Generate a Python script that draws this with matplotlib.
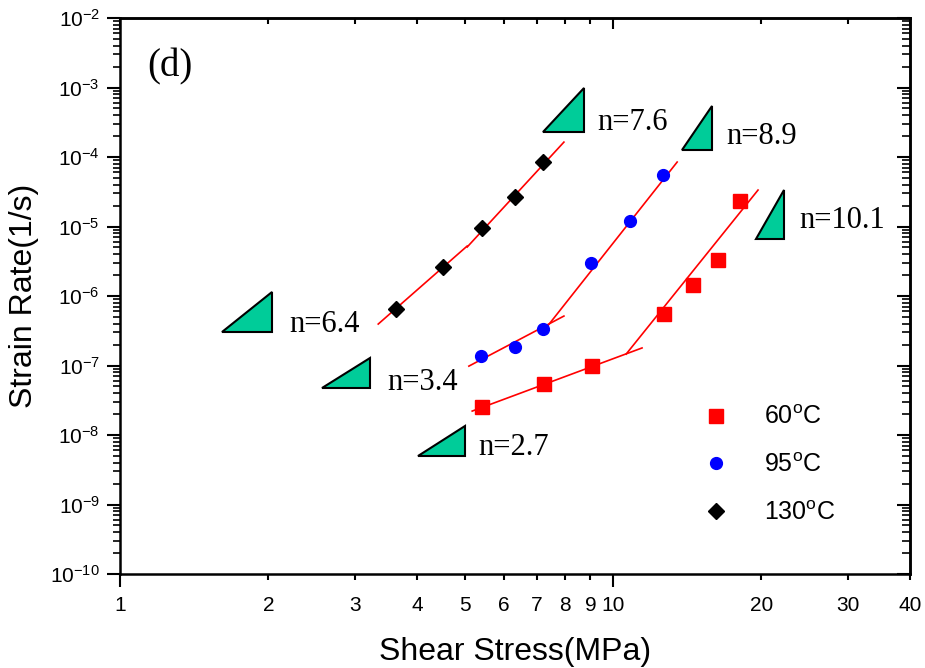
import matplotlib
matplotlib.use('Agg')
import matplotlib.pyplot as plt
from matplotlib.patches import Polygon
from matplotlib.ticker import FixedLocator, NullFormatter, LogLocator

plt.rcParams['font.family'] = ['Liberation Sans', 'DejaVu Sans']
plt.rcParams['mathtext.default'] = 'regular'

# measured points
stress_60 = [5.42, 7.25, 9.06, 12.7, 14.5, 16.3, 18.1]
rate_60 = [2.5e-8, 5.4e-8, 1.0e-7, 5.5e-7, 1.45e-6, 3.3e-6, 2.35e-5]
stress_95 = [5.40, 6.33, 7.21, 9.03, 10.83, 12.63]
rate_95 = [1.35e-7, 1.85e-7, 3.4e-7, 3.0e-6, 1.2e-5, 5.5e-5]
stress_130 = [3.63, 4.52, 5.42, 6.33, 7.21]
rate_130 = [6.5e-7, 2.6e-6, 9.5e-6, 2.7e-5, 8.4e-5]

# fitted power-law segments (end points)
fit_x = [[3.34, 5.06], [5.06, 7.95], [5.10, 7.95], [7.18, 13.49],
         [5.18, 11.45], [10.63, 19.68]]
fit_y = [[3.95e-7, 5.24e-6], [5.07e-6, 1.64e-4], [9.8e-8, 5.15e-7],
         [2.94e-7, 8.47e-5], [2.21e-8, 1.79e-7], [1.46e-7, 3.35e-5]]

# slope triangles: label, (x0, x1), (y0, y1), label position
slope_labels = ['n=6.4', 'n=7.6', 'n=8.9', 'n=10.1', 'n=3.4', 'n=2.7']
tri_x = [(1.61, 2.03), (7.21, 8.73), (13.8, 15.9), (19.5, 22.2), (2.57, 3.22), (4.02, 5.01)]
tri_y = [(3.03e-7, 1.14e-6), (2.29e-4, 9.84e-4), (1.26e-4, 5.42e-4),
         (6.61e-6, 3.35e-5), (4.74e-8, 1.28e-7), (4.99e-9, 1.35e-8)]
label_xy = [(2.21, 3.95e-7), (9.28, 3.19e-4), (17.0, 2.0e-4),
            (23.9, 1.24e-5), (3.48, 5.79e-8), (5.32, 6.72e-9)]

xmajor = [1, 10]
xminor = [2, 3, 4, 5, 6, 7, 8, 9, 20, 30, 40]

fig = plt.figure(figsize=(9.25, 6.68), dpi=100)
ax = fig.add_axes([0.1297, 0.1407, 0.854, 0.8323])

for xs, ys in zip(fit_x, fit_y):
    ax.plot(xs, ys, color='red', lw=1.2, zorder=2)

ax.plot(stress_60, rate_60, 's', color='red', ms=9.5, ls='none', label='60$^{o}$C', zorder=3)
ax.plot(stress_95, rate_95, 'o', color='blue', ms=8.5, ls='none', label='95$^{o}$C', zorder=3)
ax.plot(stress_130, rate_130, 'D', color='black', ms=8, ls='none', label='130$^{o}$C', zorder=3)

for (x0, x1), (y0, y1) in zip(tri_x, tri_y):
    ax.add_patch(Polygon([(x0, y0), (x1, y0), (x1, y1)], closed=True,
                         facecolor='#00CC99', edgecolor='black', lw=1.5, zorder=4))
for lab, (lx, ly) in zip(slope_labels, label_xy):
    ax.text(lx, ly, lab, family='Liberation Serif', fontsize=22, va='center', ha='left')

ax.text(0.034, 0.912, '(d)', transform=ax.transAxes, family='Liberation Serif',
        fontsize=28, va='center', ha='left')

ax.set_xscale('log')
ax.set_yscale('log')
ax.set_xlim(1, 40)
ax.set_ylim(1e-10, 1e-2)

ax.xaxis.set_major_locator(FixedLocator(xmajor))
ax.xaxis.set_minor_locator(FixedLocator(xminor))
ax.set_xticks(xmajor, labels=[str(v) for v in xmajor])
ax.set_xticks(xminor, labels=[str(v) for v in xminor], minor=True)
ax.yaxis.set_major_locator(LogLocator(base=10, numticks=20))
ax.yaxis.set_minor_locator(LogLocator(base=10, subs=range(2, 10), numticks=20))
ax.yaxis.set_minor_formatter(NullFormatter())

ax.tick_params(axis='x', which='major', direction='out', length=9.5, width=1.5, pad=6, labelsize=15)
ax.tick_params(axis='x', which='minor', direction='out', length=4.5, width=1.5, pad=11, labelsize=15)
ax.tick_params(axis='y', which='major', direction='out', length=9.5, width=1.5, pad=5, labelsize=15)
ax.tick_params(axis='y', which='minor', direction='out', length=5, width=1.2)

for sp in ax.spines.values():
    sp.set_linewidth(1.8)

top = ax.secondary_xaxis('top')
top.set_xticks(xmajor, labels=['', ''])
top.set_xticks(xminor, labels=[''] * len(xminor), minor=True)
top.tick_params(which='major', direction='in', length=8, width=1.5)
top.tick_params(which='minor', direction='in', length=4.5, width=1.5)
top.spines['top'].set_linewidth(1.8)

right = ax.secondary_yaxis('right')
right.yaxis.set_major_locator(LogLocator(base=10, numticks=20))
right.yaxis.set_minor_locator(LogLocator(base=10, subs=range(2, 10), numticks=20))
right.yaxis.set_major_formatter(NullFormatter())
right.yaxis.set_minor_formatter(NullFormatter())
right.tick_params(which='major', direction='in', length=9.5, width=1.5)
right.tick_params(which='minor', direction='in', length=5.5, width=1.2)
right.spines['right'].set_linewidth(1.8)

ax.set_xlabel('Shear Stress(MPa)', fontsize=23, labelpad=16)
ax.set_ylabel('Strain Rate(1/s)', fontsize=23, labelpad=8)

ax.legend(loc='center left', bbox_to_anchor=(0.739, 0.196), frameon=False,
          fontsize=18, handlelength=1, handletextpad=1.4, borderpad=0,
          borderaxespad=0, labelspacing=0.95)

fig.savefig('out.png', dpi=100)
